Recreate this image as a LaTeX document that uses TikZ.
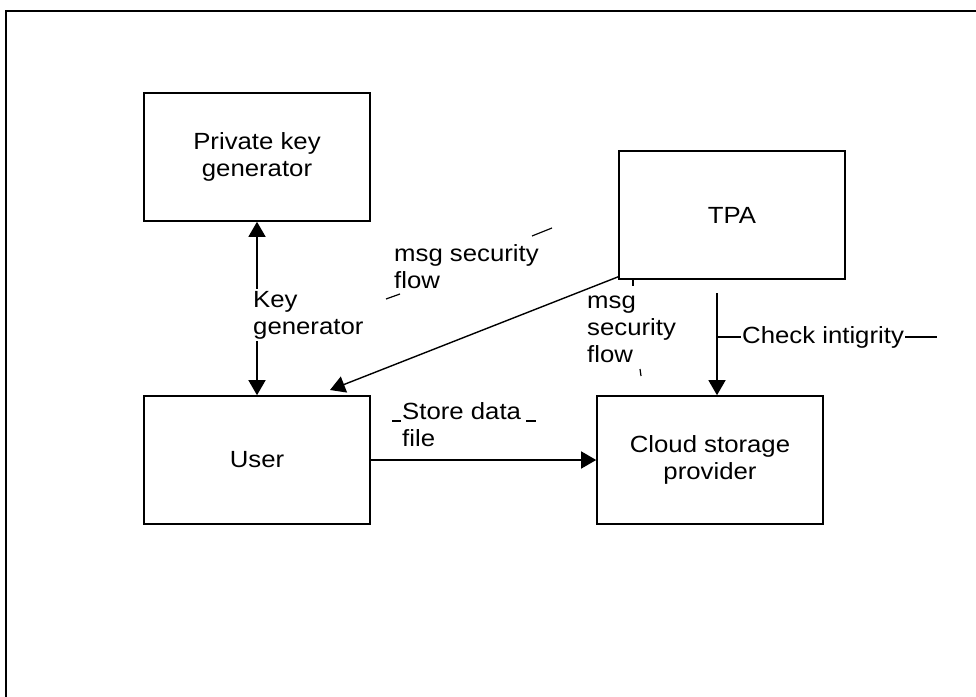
\documentclass[tikz,border=0pt]{standalone}
\usepackage{fontspec}
\setmainfont{Liberation Sans}[FakeStretch=1.1]
\usetikzlibrary{arrows.meta,calc}
\begin{document}
\begin{tikzpicture}[x=1bp,y=-1bp,
  box/.style={draw,line width=1.6bp,minimum width=226bp,minimum height=128bp,align=center,inner sep=0pt,font=\mytext},
  lbl/.style={align=left,inner sep=1bp,font=\mytext},
  conn/.style={line width=1.4bp},
  tip/.style={-{Triangle[length=15bp,width=17bp]}},
  stray/.style={line width=1.2bp}]
\newcommand{\mytext}{\fontsize{23.5}{27}\selectfont}
\useasboundingbox (0,0) rectangle (976,697);
\clip (0,0) rectangle (976,697);
\draw[line width=1.6bp] (6,11) rectangle (1000,720);
% boxes
\node[box] (pkg) at (257,157) {Private key\\generator};
\node[box] (tpa) at (732,215) {TPA};
\node[box] (user) at (257,460) {User};
\node[box] (cloud) at (710,460) {Cloud storage\\provider};
% key generator
\draw[conn,{Triangle[length=15bp,width=17bp]}-{Triangle[length=15bp,width=17bp]}] (pkg.south) -- (user.north);
\node[lbl,fill=white,anchor=west,inner sep=2bp] (kg) at (251,315) {Key\\generator};
% TPA -> user
\coordinate (tpaout) at ($(tpa.south west)+(0,-3)$);
\coordinate (uin) at (330,390);
\draw[conn,tip] (tpaout) -- (uin);
\node[lbl,anchor=west] (msg1) at (393,267) {msg security\\flow};
\draw[stray] (532,236) -- (552,228);
\draw[stray] (386,299) -- (400,294);
% second msg label
\node[lbl,anchor=west] (msg2) at (586,329) {msg\\security\\flow};
\draw[stray] (633,279) -- (633,286);
\draw[stray] (640,369) -- (641,376);
% check integrity
\coordinate (chk) at (717,293);
\draw[conn,tip] (chk) -- (chk |- cloud.north);
\node[lbl,anchor=west] (ci) at (741,337) {Check intigrity};
\draw[stray] (718,337) -- (ci.west);
\draw[stray] (ci.east) -- (937,337);
% store data
\draw[conn,tip] (user.east) -- (cloud.west);
\node[lbl,anchor=west] (sd) at (401,425) {Store data\\file};
\draw[stray] (392,421) -- (401,421);
\draw[stray] (526,421) -- (536,421);
\end{tikzpicture}
\end{document}
